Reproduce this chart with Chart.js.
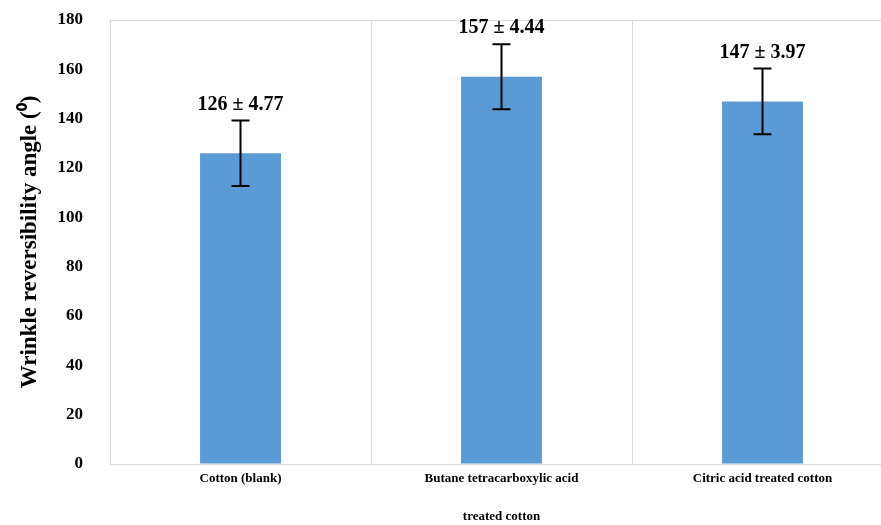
<!DOCTYPE html>
<html>
<head>
<meta charset="utf-8">
<script src="https://cdn.jsdelivr.net/npm/chart.js@4"></script>
<style>
  body { margin: 0; background: #fff; overflow: hidden; }
  #wrap { width: 900px; height: 525px; }
</style>
</head>
<body>
<div id="wrap"><canvas id="Wrinkle_Chart"></canvas></div>
<script>
const categories = [['Cotton (blank)'], ['Butane tetracarboxylic acid', 'treated cotton'], ['Citric acid treated cotton']];
const angles = [126, 157, 147];           // bar heights
const sdLabels = ['4.77', '4.44', '3.97']; // values printed above bars
const errorBars = [13.3, 13.2, 13.3];      // half-length of drawn error bars
const yTicks = [0, 20, 40, 60, 80, 100, 120, 140, 160, 180];

const serif = '"Liberation Serif", "Times New Roman", serif';

// error bars + value labels
const errorPlugin = {
    id: 'errorBars',
    afterDatasetsDraw(chart) {
        const ctx = chart.ctx;
        const y = chart.scales.y;
        const meta = chart.getDatasetMeta(0);
        ctx.save();
        meta.data.forEach((bar, i) => {
            const top = y.getPixelForValue(angles[i] + errorBars[i]);
            const bottom = y.getPixelForValue(angles[i] - errorBars[i]);
            ctx.strokeStyle = '#000';
            ctx.lineWidth = 2;
            ctx.beginPath();
            ctx.moveTo(bar.x, top);
            ctx.lineTo(bar.x, bottom);
            ctx.moveTo(bar.x - 9, top);
            ctx.lineTo(bar.x + 9, top);
            ctx.moveTo(bar.x - 9, bottom);
            ctx.lineTo(bar.x + 9, bottom);
            ctx.stroke();

            ctx.fillStyle = '#000';
            ctx.font = 'bold 20px ' + serif;
            ctx.textAlign = 'center';
            ctx.textBaseline = 'bottom';
            ctx.fillText(angles[i] + ' \u00b1 ' + sdLabels[i], bar.x, top - 6);
        });
        ctx.restore();
    }
};

const ctxWrinkle = document.getElementById('Wrinkle_Chart').getContext('2d');
new Chart(ctxWrinkle, {
    type: 'bar',
    data: {
        labels: categories,
        datasets: [{
            data: angles,
            backgroundColor: '#5b9bd5',
            barPercentage: 0.31,
            categoryPercentage: 1
        }]
    },
    options: {
        responsive: true,
        maintainAspectRatio: false,
        animation: false,
        layout: { padding: { top: 20, right: 7, left: 0, bottom: 0 } },
        plugins: {
            legend: { display: false },
            tooltip: { enabled: false }
        },
        scales: {
            x: {
                afterFit: (s) => { s.height = 61; },
                grid: {
                    offset: true,
                    drawTicks: false,
                    color: '#d9d9d9'
                },
                border: { color: '#d9d9d9' },
                ticks: {
                    color: '#000',
                    padding: -4,
                    font: { family: serif, size: 13, weight: 'bold', lineHeight: 2.9 }
                }
            },
            y: {
                min: 0,
                max: 180,
                afterFit: (s) => {
                    s.width = 110;
                    s.paddingTop = 10;
                    s.paddingBottom = 10;
                },
                afterBuildTicks: (s) => { s.ticks = yTicks.map(v => ({ value: v })); },
                grid: {
                    drawTicks: false,
                    color: (c) => c.tick && c.tick.value === 180 ? '#d9d9d9' : 'transparent'
                },
                border: { color: '#d9d9d9' },
                ticks: {
                    color: '#000',
                    padding: 27,
                    font: { family: serif, size: 17, weight: 'bold' }
                },
                title: {
                    display: true,
                    text: 'Wrinkle reversibility angle (\u2070)',
                    color: '#000',
                    padding: { top: 16, bottom: 0 },
                    font: { family: serif, size: 23, weight: 'bold' }
                }
            }
        }
    },
    plugins: [errorPlugin]
});
</script>
</body>
</html>
